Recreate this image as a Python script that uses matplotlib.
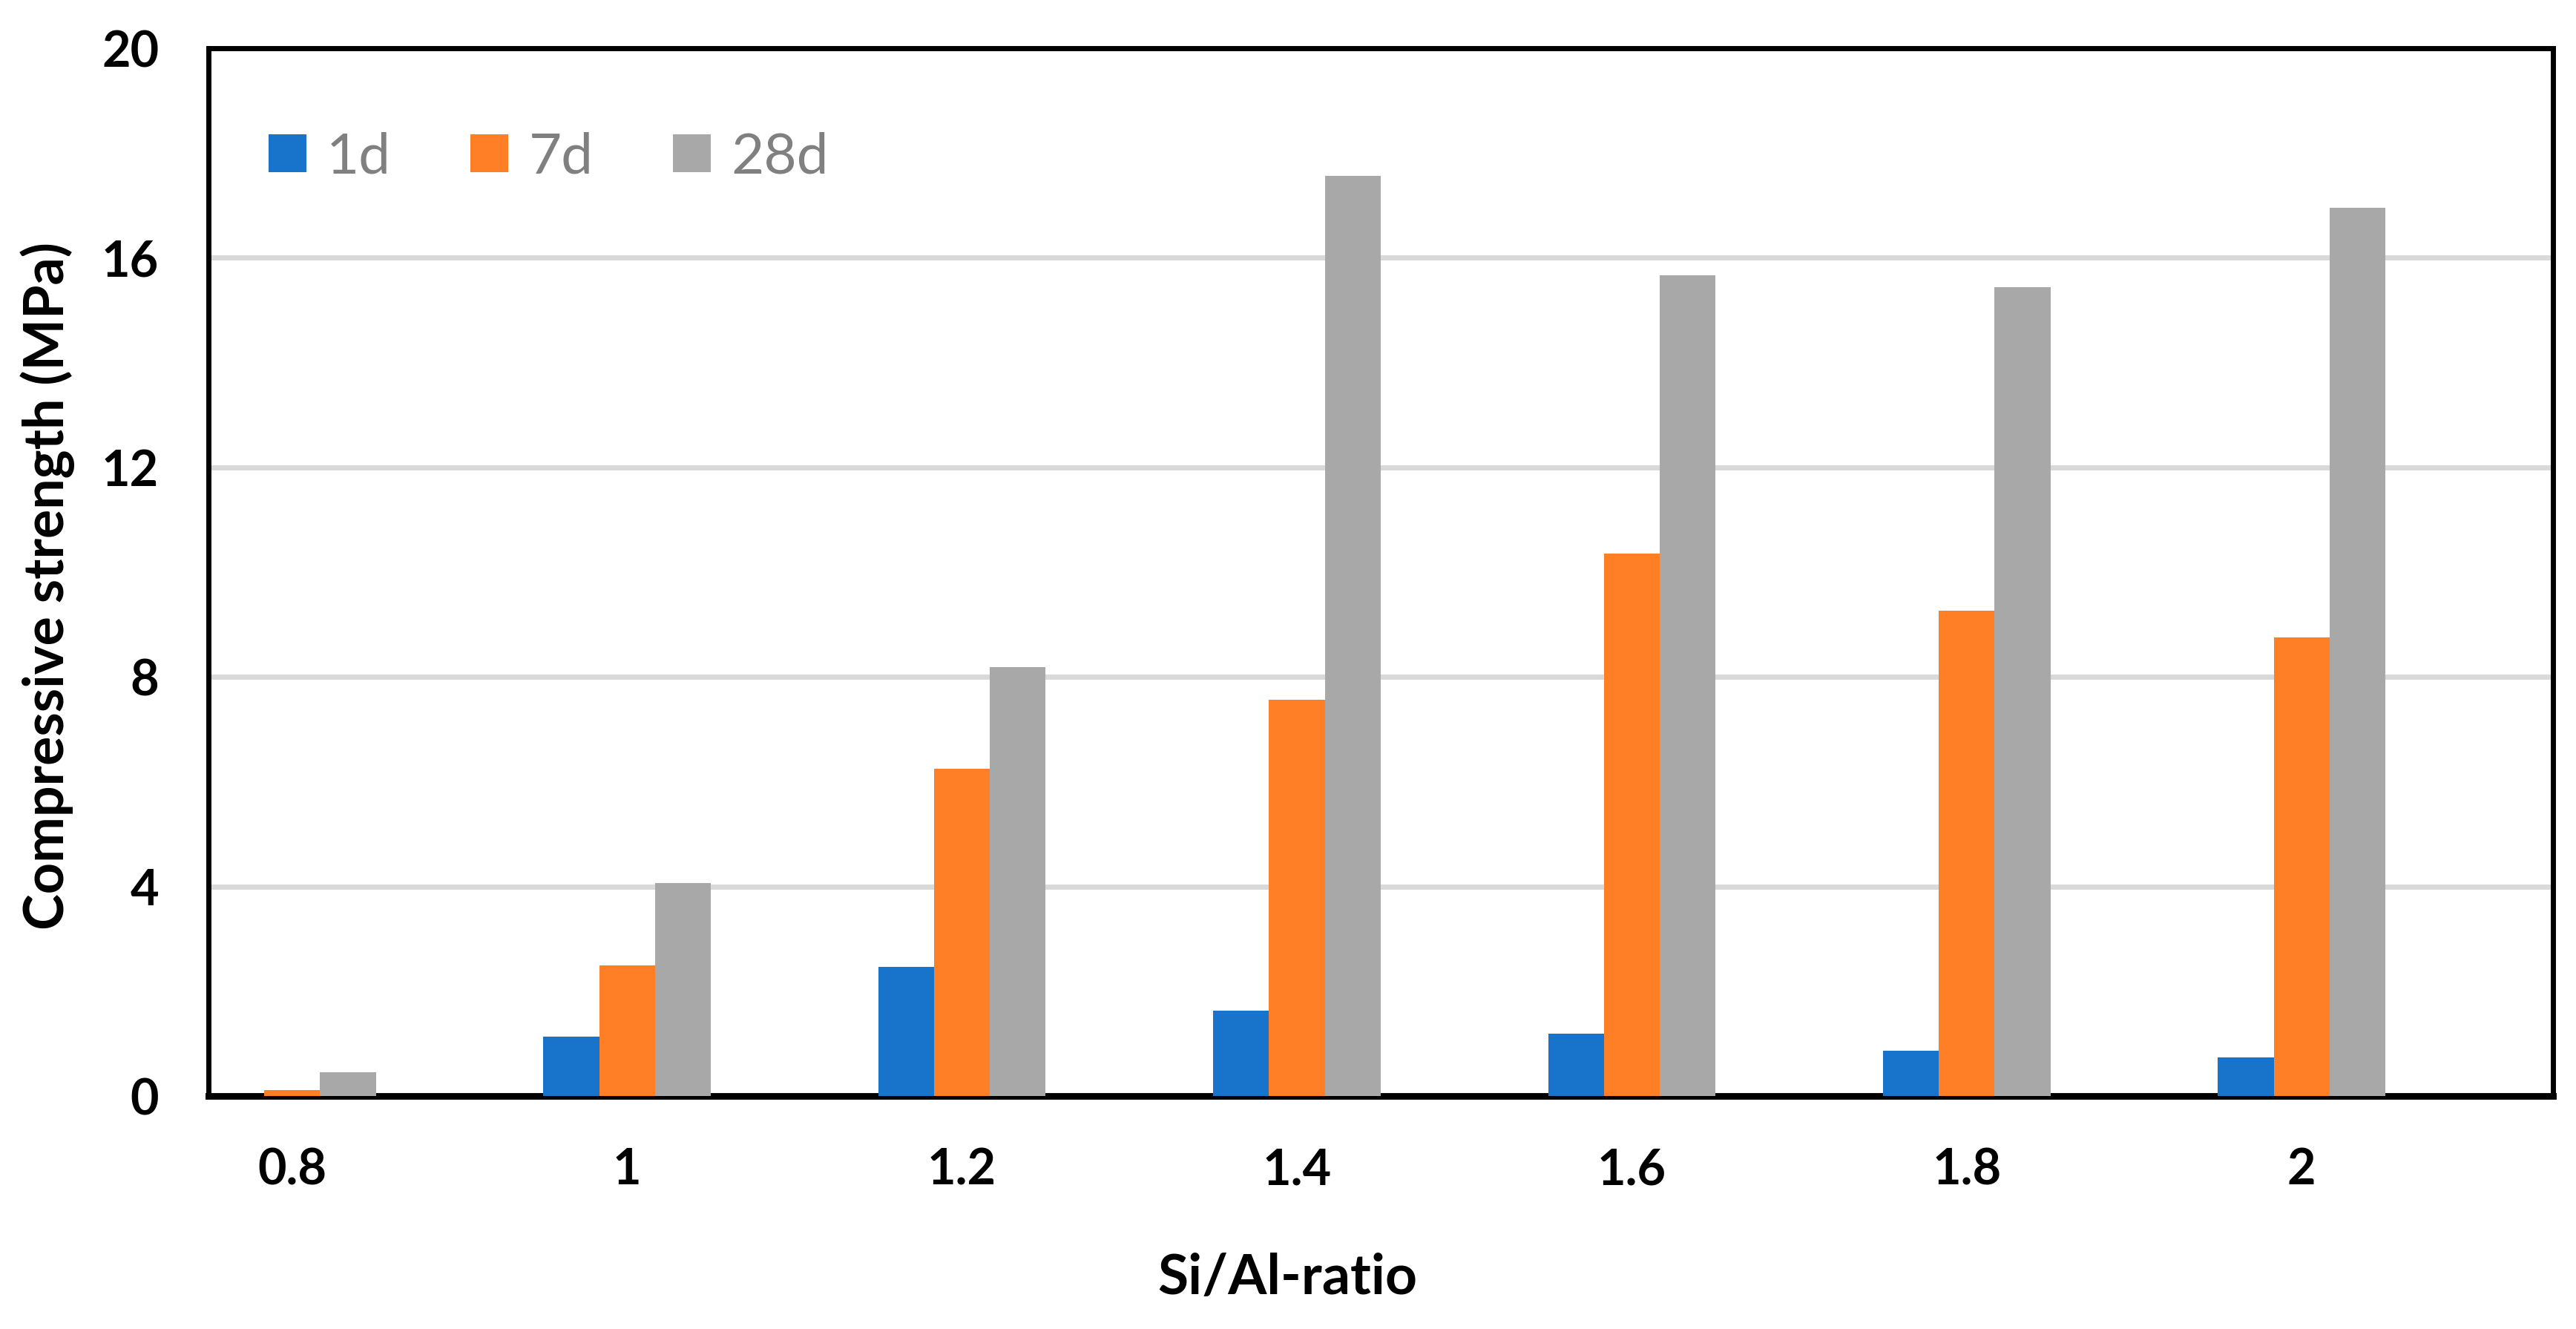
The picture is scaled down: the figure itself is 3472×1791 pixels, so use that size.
import numpy as np
import matplotlib
matplotlib.use("Agg")
from matplotlib import pyplot as plt

# Si/Al ratio groups
ratios = ["0.8", "1", "1.2", "1.4", "1.6", "1.8", "2"]
# compressive strength, MPa
strength_1d = [0.0, 1.13, 2.47, 1.63, 1.19, 0.86, 0.74]
strength_7d = [0.12, 2.5, 6.25, 7.57, 10.36, 9.26, 8.76]
strength_28d = [0.46, 4.07, 8.19, 17.56, 15.67, 15.44, 16.95]
series_names = ["1d", "7d", "28d"]

colors = ["#1874CB", "#FF7F27", "#A8A8A8"]

plt.rcParams["font.family"] = ["Lato", "DejaVu Sans"]

fig = plt.figure(figsize=(17.36, 8.955), dpi=200)
ax = fig.add_axes([0.0809, 0.1753, 0.9101, 0.7884])

x = np.arange(len(ratios))
w = 1 / 6
ax.bar(x - w, strength_1d, w, color=colors[0], label=series_names[0], zorder=3)
ax.bar(x, strength_7d, w, color=colors[1], label=series_names[1], zorder=3)
ax.bar(x + w, strength_28d, w, color=colors[2], label=series_names[2], zorder=3)

ax.set_xlim(-0.25, 6.75)
ax.set_ylim(0, 20)
ax.set_yticks([0, 4, 8, 12, 16, 20])
ax.set_xticks(x)
ax.set_xticklabels(ratios)

# сетка
ax.yaxis.grid(True, color="#D9D9D9", linewidth=2.5, zorder=0)
ax.set_axisbelow(True)

for s in ax.spines.values():
    s.set_linewidth(2.5)
    s.set_color("black")
ax.spines["bottom"].set_linewidth(3.2)

ax.tick_params(axis="both", length=0, labelsize=24)
ax.tick_params(axis="x", pad=25)
ax.tick_params(axis="y", pad=24)
for lab in ax.get_xticklabels() + ax.get_yticklabels():
    lab.set_fontweight("bold")

fig.text(0.0185, 0.5594, "Compressive strength (MPa)", rotation=90,
         ha="center", va="center", fontsize=26.5, fontweight="bold")
fig.text(0.4997, 0.0385, "Si/Al-ratio", ha="center", va="center",
         fontsize=27, fontweight="bold")

leg = ax.legend(loc="center left", bbox_to_anchor=(0.0256, 0.896), ncol=3,
                frameon=False, fontsize=27.5, handlelength=0.667, handleheight=0.667,
                handletextpad=0.36, columnspacing=1.40, borderpad=0,
                borderaxespad=0)
for t in leg.get_texts():
    t.set_color("#808080")

fig.savefig("out.png", dpi=200)
